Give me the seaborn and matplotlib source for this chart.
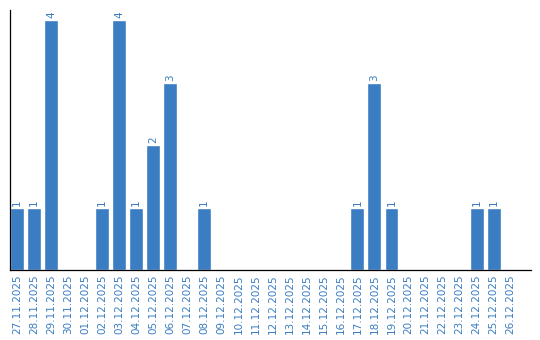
import matplotlib
matplotlib.use("Agg")
import matplotlib.pyplot as plt
import seaborn as sns
import pandas as pd

dates = ["27.11.2025", "28.11.2025", "29.11.2025", "30.11.2025", "01.12.2025",
         "02.12.2025", "03.12.2025", "04.12.2025", "05.12.2025", "06.12.2025",
         "07.12.2025", "08.12.2025", "09.12.2025", "10.12.2025", "11.12.2025",
         "12.12.2025", "13.12.2025", "14.12.2025", "15.12.2025", "16.12.2025",
         "17.12.2025", "18.12.2025", "19.12.2025", "20.12.2025", "21.12.2025",
         "22.12.2025", "23.12.2025", "24.12.2025", "25.12.2025", "26.12.2025"]
counts = [1, 1, 4, 0, 0, 1, 4, 1, 2, 3, 0, 1, 0, 0, 0, 0, 0, 0, 0, 0,
          1, 3, 1, 0, 0, 0, 0, 1, 1, 0]

df = pd.DataFrame({"date": dates, "count": counts})
blue = "#3a7dc2"

sns.set_style("white")
plt.rcParams["font.family"] = ["DejaVu Sans"]

fig = plt.figure(figsize=(5.4, 3.4), dpi=100)
ax = fig.add_axes([10 / 540, 70 / 340, 521 / 540, 260 / 340])
sns.barplot(data=df, x="date", y="count", color=blue, saturation=1,
            width=0.82, ax=ax, order=dates)

for i, v in enumerate(counts):
    if v > 0:
        ax.text(i, v + 0.03, str(v), rotation=90, ha="center", va="bottom",
                color=blue, fontsize=7.5)

ax.set_xlim(-0.42, 30.2)
ax.set_ylim(0, 4.16)
ax.set_xlabel("")
ax.set_ylabel("")
ax.set_yticks([])
ax.tick_params(axis="x", length=0, pad=3, labelsize=7.5, labelcolor=blue)
plt.setp(ax.get_xticklabels(), rotation=90)
for s in ["top", "right"]:
    ax.spines[s].set_visible(False)
for s in ["left", "bottom"]:
    ax.spines[s].set_color("black")
    ax.spines[s].set_linewidth(0.9)

fig.savefig("out.png", dpi=100)
